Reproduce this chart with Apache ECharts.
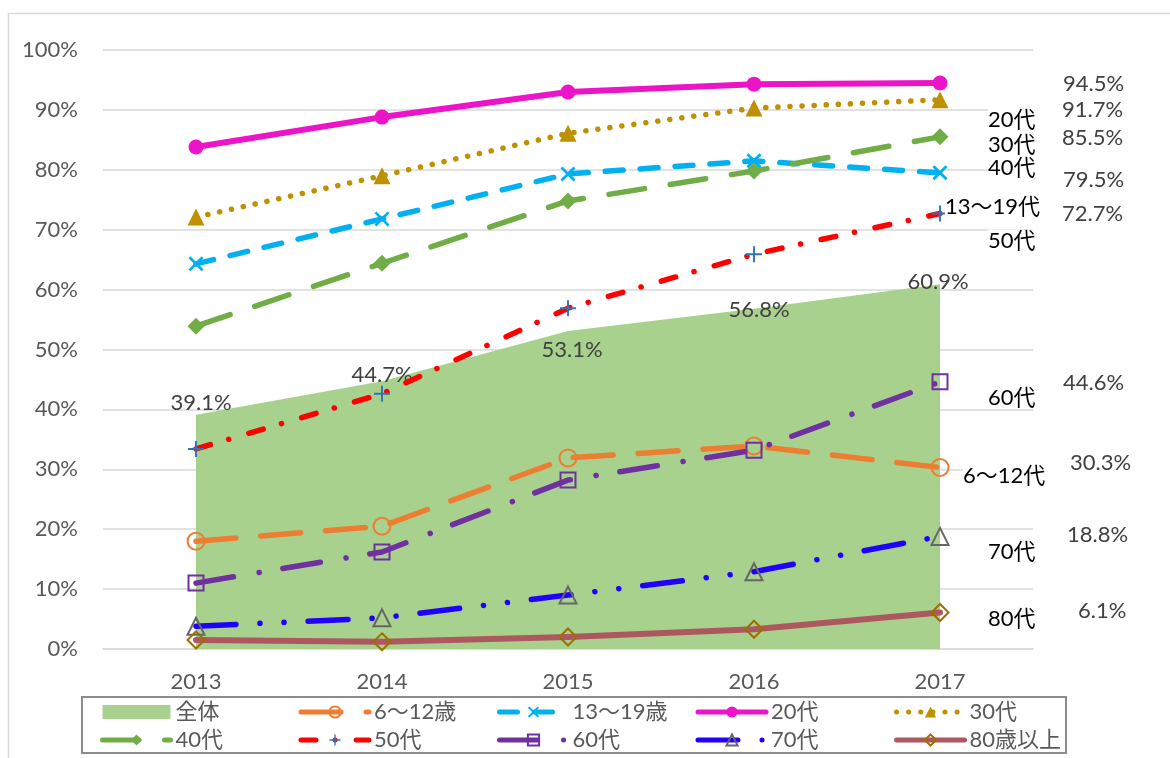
<!DOCTYPE html>
<html><head><meta charset="utf-8">
<script src="https://cdn.jsdelivr.net/npm/echarts@6/dist/echarts.min.js"></script>
<style>html,body{margin:0;padding:0;background:#fff}#c{width:1170px;height:758px}</style>
</head><body><div id="c"></div>
<script>
// ---- data ----
const years = ['2013', '2014', '2015', '2016', '2017'];
const total    = [39.1, 44.7, 53.1, 56.8, 60.9];
const age6_12  = [18.0, 20.5, 31.9, 33.9, 30.3];
const age13_19 = [64.3, 71.8, 79.3, 81.5, 79.5];
const age20s   = [83.8, 88.8, 93.0, 94.3, 94.5];
const age30s   = [72.1, 79.0, 86.1, 90.3, 91.7];
const age40s   = [53.9, 64.4, 74.8, 79.8, 85.5];
const age50s   = [33.4, 42.6, 56.9, 65.9, 72.7];
const age60s   = [11.0, 16.2, 28.2, 33.2, 44.6];
const age70s   = [3.8, 5.2, 9.0, 12.9, 18.8];
const age80s   = [1.5, 1.2, 2.0, 3.3, 6.1];
const legendNames = ['全体', '6〜12歳', '13〜19歳', '20代', '30代', '40代', '50代', '60代', '70代', '80歳以上'];
const endNames = ['6〜12代', '13〜19代', '20代', '30代', '40代', '50代', '60代', '70代', '80代'];
const yMin = 0, yMax = 100, yStep = 10;

// ---- styles ----
const FONT = "Lato, 'Noto Sans CJK JP', sans-serif";
const FS = 22;
const GRAY = '#595959';
const VAL = '#404040';
const totalLabelOffsets = [[5, -12], [0, -6], [4, 19], [5, 1], [-2, -2]];

const xPath = 'path://M0,1.3L1.3,0L5,3.7L8.7,0L10,1.3L6.3,5L10,8.7L8.7,10L5,6.3L1.3,10L0,8.7L3.7,5Z';
const plusPath = 'path://M4.4,0H5.6V4.4H10V5.6H5.6V10H4.4V5.6H0V4.4H4.4Z';

const lineDefs = [
  { name: '6〜12歳', data: age6_12, end: endNames[0], color: '#ED7D31', w: 5.5, dash: [40, 25], symbol: 'circle', size: 17, hollow: '#ED7D31', valOff: [130, -5], nameOff: [23, 8] },
  { name: '13〜19歳', data: age13_19, end: endNames[1], color: '#00B0F0', w: 5.5, dash: [18, 17], symbol: xPath, size: 15, fill: '#00B0F0', valOff: [123, 7], nameOff: [5, 34] },
  { name: '20代', data: age20s, end: endNames[2], color: '#EC14C8', w: 6, dash: 'solid', symbol: 'circle', size: 15, fill: '#EC14C8', valOff: [123, 1], nameOff: [48, 37] },
  { name: '30代', data: age30s, end: endNames[3], color: '#BF9000', w: 5.5, dash: [0.1, 12], symbol: 'triangle', size: 17, fill: '#BF9000', valOff: [122, 10], nameOff: [48, 45] },
  { name: '40代', data: age40s, end: endNames[4], color: '#70AD47', w: 5.5, dash: [36, 26], symbol: 'diamond', size: 17, fill: '#70AD47', valOff: [122, 1], nameOff: [48, 31] },
  { name: '50代', data: age50s, end: endNames[5], color: '#FF0000', w: 5.5, dash: [15, 19, 0.1, 21], symbol: plusPath, size: 16, fill: '#2E75B6', valOff: [122, 0], nameOff: [48, 27] },
  { name: '60代', data: age60s, end: endNames[6], color: '#7030A0', w: 5.5, dash: [38, 26, 0.1, 24], symbol: 'rect', size: 15, hollow: '#7030A0', valOff: [123, 1], nameOff: [48, 16] },
  { name: '70代', data: age70s, end: endNames[7], color: '#2000FF', w: 5.5, dash: [40, 24, 0.1, 24, 0.1, 24], symbol: 'triangle', size: 17, hollow: '#666666', valOff: [127, -1], nameOff: [48, 16] },
  { name: '80歳以上', data: age80s, end: endNames[8], color: '#AD5860', w: 6, dash: 'solid', symbol: 'diamond', size: 17, hollow: '#9C6F00', valOff: [138, -2], nameOff: [48, 6] }
];

const series = [{
  name: '全体', type: 'line', z: 1,
  data: total.map((v, i) => ({ value: v, label: { offset: totalLabelOffsets[i] } })),
  symbol: 'circle', symbolSize: 0,
  lineStyle: { width: 0, color: '#A9D18E' },
  itemStyle: { color: '#A9D18E' },
  areaStyle: { color: '#A9D18E', opacity: 1 },
  label: { show: true, position: 'inside', formatter: p => p.value.toFixed(1) + '%', color: VAL, fontSize: FS, fontFamily: FONT },
  emphasis: { disabled: true }
}];

lineDefs.forEach((d, k) => {
  const last = d.data.length - 1;
  series.push({
    name: d.name, type: 'line', z: 3 + k,
    data: d.data,
    symbol: d.symbol, symbolSize: d.size, showAllSymbol: true,
    lineStyle: { color: d.color, width: d.w, type: d.dash, cap: 'round', join: 'round' },
    itemStyle: d.hollow
      ? { color: 'rgba(255,255,255,0)', borderColor: d.hollow, borderWidth: 2 }
      : { color: d.fill, borderWidth: 0 },
    emphasis: { disabled: true },
    markPoint: {
      symbol: 'circle', symbolSize: 0, silent: true, z: 10,
      itemStyle: { color: 'rgba(0,0,0,0)' },
      data: [
        { coord: [years[last], d.data[last]],
          label: { show: true, position: 'inside', align: 'left', verticalAlign: 'middle', offset: d.valOff,
                   formatter: d.data[last].toFixed(1) + '%', color: VAL, fontSize: FS, fontFamily: FONT } },
        { coord: [years[last], d.data[last]],
          label: { show: true, position: 'inside', align: 'left', verticalAlign: 'middle', offset: d.nameOff,
                   formatter: d.end, color: '#000', fontSize: FS, fontFamily: FONT,
                   backgroundColor: '#fff', lineHeight: 22, padding: [0, 0, 0, 0] } }
      ]
    }
  });
});

const chart = echarts.init(document.getElementById('c'), null, { renderer: 'canvas' });
chart.setOption({
  animation: false,
  backgroundColor: '#fff',
  grid: { left: 103, right: 137, top: 50, bottom: 109, containLabel: false },
  xAxis: {
    type: 'category', data: years, boundaryGap: true,
    axisLine: { show: true, lineStyle: { color: '#D9D9D9', width: 1.5 } },
    axisTick: { show: false },
    axisLabel: { color: GRAY, fontSize: FS, fontFamily: FONT, margin: 22 },
    splitLine: { show: false }
  },
  yAxis: {
    type: 'value', min: yMin, max: yMax, interval: yStep,
    axisLine: { show: false }, axisTick: { show: false },
    axisLabel: { color: GRAY, fontSize: FS, fontFamily: FONT, margin: 25, formatter: '{value}%' },
    splitLine: { lineStyle: { color: '#D9D9D9', width: 1.5 } }
  },
  legend: {
    left: 100, top: 700, width: 990, padding: 0,
    itemWidth: 68, itemHeight: 14, itemGap: 4,
    data: legendNames.map(n => n === '全体' ? { name: n, icon: 'rect' } : n),
    lineStyle: { width: 5 },
    textStyle: { color: GRAY, fontSize: FS, fontFamily: FONT, width: 119, lineHeight: 24 },
    selectedMode: false
  },
  graphic: [
    { type: 'rect', silent: true, z: -1, shape: { x: 8.5, y: 13.5, width: 1400, height: 1000 }, style: { fill: 'none', stroke: '#D9D9D9', lineWidth: 1.5 } },
    { type: 'rect', silent: true, shape: { x: 82, y: 697, width: 984, height: 56 }, style: { fill: 'none', stroke: '#8C8C8C', lineWidth: 2 } }
  ],
  series: series
});
</script></body></html>
